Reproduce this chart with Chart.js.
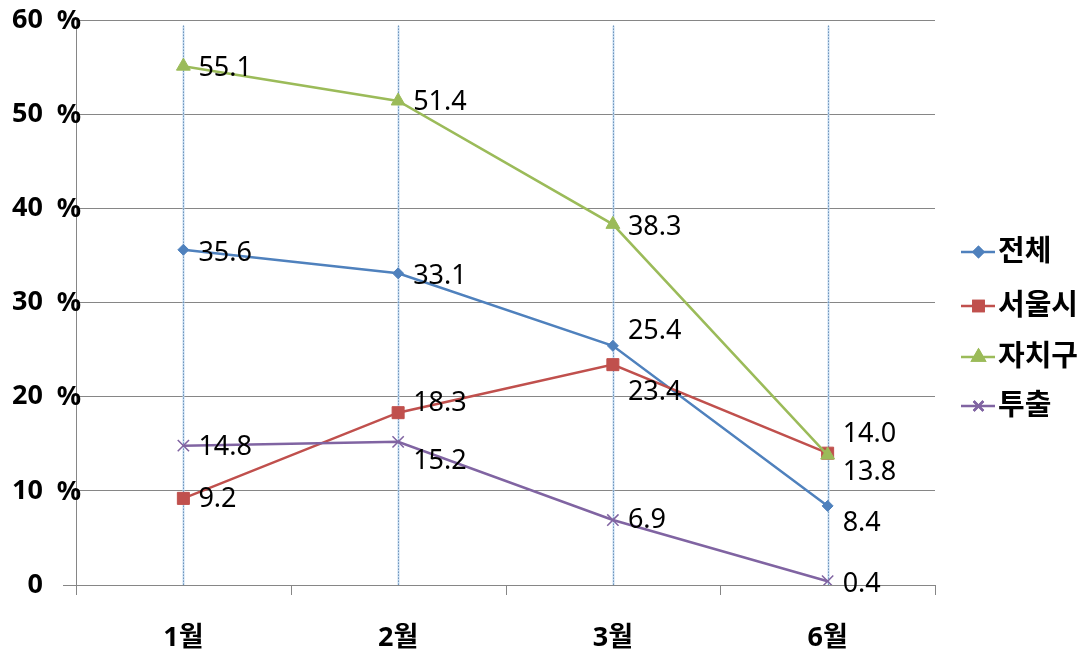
<!DOCTYPE html>
<html><head><meta charset="utf-8">
<script src="https://cdn.jsdelivr.net/npm/chart.js@4"></script>
<style>html,body{margin:0;padding:0;background:#fff}#wrap{width:1092px;height:656px}</style>
</head><body><div id="wrap"><canvas id="c" width="1092" height="656"></canvas></div>
<script>
const categories = ['1월', '2월', '3월', '6월'];
const seriesNames = ['전체', '서울시', '자치구', '투출'];
const totalValues = [35.6, 33.1, 25.4, 8.4];
const seoulValues = [9.2, 18.3, 23.4, 14.0];
const districtValues = [55.1, 51.4, 38.3, 13.8];
const investValues = [14.8, 15.2, 6.9, 0.4];
const yTickValues = [0, 10, 20, 30, 40, 50, 60];
const yUnit = '%';

// style config (not data)
const seriesColors = ['#4F81BD', '#C0504D', '#9BBB59', '#8064A2'];
const seriesPoints = ['rectRot', 'rect', 'triangle', 'crossRot'];
const seriesRadius = [5.5, 8.5, 8, 8];
const labelDy = [[4, 3, -15, 17], [1, -9, 28, -19], [2, 1, 3, 17], [2, 19, 0, 3]];

const seriesValues = [totalValues, seoulValues, districtValues, investValues];
const FONT = '"Noto Sans", "Noto Sans CJK KR", sans-serif';

const datasets = seriesNames.map((name, i) => ({
  label: name,
  data: seriesValues[i],
  borderColor: seriesColors[i],
  backgroundColor: seriesColors[i],
  pointBackgroundColor: seriesColors[i],
  pointBorderColor: seriesColors[i],
  pointStyle: seriesPoints[i],
  pointRadius: seriesRadius[i],
  pointBorderWidth: i === 3 ? 1.5 : 1,
  borderWidth: 2.5,
  tension: 0,
  order: seriesNames.length - i
}));

const decor = {
  id: 'decor',
  beforeDatasetsDraw(chart) {
    const { ctx, chartArea: a, scales: { x, y } } = chart;
    ctx.save();
    categories.forEach((c, i) => {
      const px = Math.round(x.getPixelForValue(i)) + 0.5;
      ctx.strokeStyle = 'rgba(190,215,240,0.9)';
      ctx.lineWidth = 2;
      ctx.setLineDash([]);
      ctx.beginPath(); ctx.moveTo(px, y.getPixelForValue(59.4)); ctx.lineTo(px, a.bottom); ctx.stroke();
      ctx.strokeStyle = '#3f6e9e';
      ctx.lineWidth = 1;
      ctx.setLineDash([1, 2]);
      ctx.beginPath(); ctx.moveTo(px, y.getPixelForValue(59.4)); ctx.lineTo(px, a.bottom); ctx.stroke();
    });
    ctx.setLineDash([]);
    ctx.strokeStyle = '#868686';
    ctx.lineWidth = 1;
    for (let i = 0; i <= categories.length; i++) {
      const px = Math.round(x.getPixelForValue(i - 0.5)) + 0.5;
      ctx.beginPath(); ctx.moveTo(px, a.bottom); ctx.lineTo(px, a.bottom + 10); ctx.stroke();
    }
    const by = Math.round(a.bottom) + 0.5;
    ctx.beginPath(); ctx.moveTo(a.left - 13, by); ctx.lineTo(a.right, by); ctx.stroke();
    ctx.restore();
  },
  afterDatasetsDraw(chart) {
    const { ctx, scales: { y } } = chart;
    ctx.save();
    ctx.font = '27px ' + FONT;
    ctx.fillStyle = '#000';
    ctx.textBaseline = 'middle';
    ctx.textAlign = 'left';
    chart.data.datasets.forEach((ds, di) => {
      const meta = chart.getDatasetMeta(di);
      meta.data.forEach((el, j) => {
        ctx.fillText(ds.data[j].toFixed(1), el.x + 15, el.y + labelDy[di][j]);
      });
    });
    ctx.font = 'bold 27px ' + FONT;
    ctx.textAlign = 'right';
    yTickValues.forEach(v => {
      if (v !== 0) ctx.fillText(yUnit, 81, y.getPixelForValue(v) + 1);
    });
    ctx.restore();
  },
  afterDraw(chart) {
    const { ctx } = chart;
    ctx.save();
    const ys = [252, 306, 357, 406];
    chart.data.datasets.forEach((ds, i) => {
      const y0 = ys[i];
      ctx.strokeStyle = ds.borderColor;
      ctx.lineWidth = 2.5;
      ctx.beginPath(); ctx.moveTo(961, y0); ctx.lineTo(995, y0); ctx.stroke();
      Chart.helpers.drawPoint(ctx, {
        pointStyle: ds.pointStyle, radius: ds.pointRadius * 0.85, rotation: 0,
        borderWidth: ds.pointBorderWidth
      }, 978.5, y0);
      ctx.fillStyle = ds.borderColor;
      ctx.fill();
      ctx.stroke();
      ctx.fillStyle = '#000';
      ctx.font = 'bold 29px ' + FONT;
      ctx.textBaseline = 'middle';
      ctx.fillText(ds.label, 998, y0 + 1);
    });
    ctx.restore();
  }
};

new Chart(document.getElementById('c'), {
  type: 'line',
  data: { labels: categories, datasets },
  options: {
    responsive: false,
    animation: false,
    devicePixelRatio: 1,
    layout: { padding: { top: 20, right: 157, left: 0, bottom: 0 } },
    plugins: { legend: { display: false }, tooltip: { enabled: false } },
    scales: {
      x: {
        type: 'category',
        offset: true,
        grid: { display: false, drawTicks: false },
        border: { display: false },
        ticks: { color: '#000', font: { family: FONT, size: 27, weight: 'bold' }, padding: 37, maxRotation: 0 },
        afterFit(s) { s.height = 71; s.paddingLeft = 0; s.paddingRight = 0; }
      },
      y: {
        min: 0, max: 60,
        afterBuildTicks(s) { s.ticks = yTickValues.map(v => ({ value: v })); },
        grid: { color: '#868686', lineWidth: 1, drawTicks: false },
        border: { color: '#868686', width: 1 },
        ticks: {
          color: '#000', font: { family: FONT, size: 27, weight: 'bold' }, padding: 33,
          callback: v => String(v)
        },
        afterFit(s) { s.width = 76; s.paddingTop = 0; s.paddingBottom = 0; }
      }
    }
  },
  plugins: [decor]
});
</script></body></html>
